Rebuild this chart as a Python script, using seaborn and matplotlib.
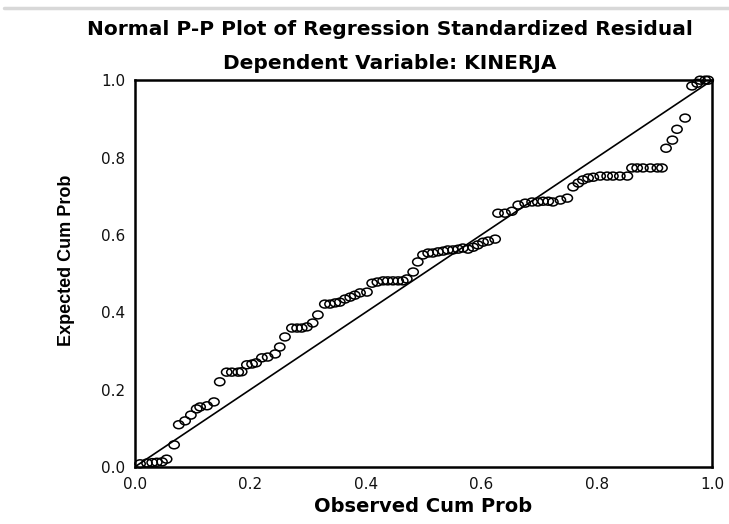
import matplotlib
matplotlib.use("Agg")
import matplotlib.pyplot as plt
import numpy as np
import pandas as pd
import seaborn as sns
from matplotlib.lines import Line2D
from matplotlib.path import Path
from matplotlib.transforms import Affine2D

# observed vs expected cumulative probabilities
observed = [
    0.009, 0.021, 0.030, 0.038, 0.047, 0.055, 0.068, 0.076, 0.087, 0.097,
    0.107, 0.113, 0.125, 0.137, 0.147, 0.159, 0.168, 0.179, 0.185, 0.194,
    0.203, 0.210, 0.220, 0.230, 0.243, 0.251, 0.260, 0.272, 0.281, 0.289,
    0.298, 0.308, 0.317, 0.329, 0.338, 0.347, 0.355, 0.364, 0.373, 0.381,
    0.390, 0.402, 0.411, 0.420, 0.430, 0.438, 0.447, 0.456, 0.464, 0.471,
    0.482, 0.490, 0.499, 0.508, 0.516, 0.525, 0.534, 0.542, 0.551, 0.560,
    0.568, 0.577, 0.586, 0.594, 0.603, 0.612, 0.624, 0.629, 0.641, 0.653,
    0.664, 0.676, 0.688, 0.698, 0.707, 0.716, 0.724, 0.737, 0.749, 0.759,
    0.768, 0.776, 0.785, 0.794, 0.806, 0.818, 0.828, 0.840, 0.853, 0.861,
    0.870, 0.880, 0.893, 0.905, 0.913, 0.920, 0.931, 0.939, 0.953, 0.965,
    0.974, 0.979, 0.988, 0.993,
]
expected = [
    0.008, 0.010, 0.011, 0.012, 0.013, 0.020, 0.057, 0.109, 0.119, 0.134,
    0.150, 0.155, 0.158, 0.168, 0.220, 0.245, 0.245, 0.245, 0.246, 0.264,
    0.266, 0.269, 0.282, 0.284, 0.292, 0.310, 0.336, 0.359, 0.359, 0.359,
    0.362, 0.372, 0.393, 0.421, 0.421, 0.424, 0.426, 0.434, 0.439, 0.444,
    0.450, 0.452, 0.475, 0.478, 0.481, 0.481, 0.481, 0.481, 0.481, 0.486,
    0.504, 0.530, 0.548, 0.553, 0.553, 0.556, 0.558, 0.561, 0.561, 0.563,
    0.566, 0.563, 0.568, 0.574, 0.581, 0.584, 0.589, 0.656, 0.656, 0.661,
    0.677, 0.682, 0.685, 0.685, 0.687, 0.687, 0.685, 0.690, 0.695, 0.724,
    0.734, 0.742, 0.747, 0.749, 0.752, 0.752, 0.752, 0.752, 0.752, 0.773,
    0.773, 0.773, 0.773, 0.773, 0.773, 0.824, 0.845, 0.873, 0.902, 0.985,
    0.992, 1.000, 1.000, 1.000,
]
ticks = [0.0, 0.2, 0.4, 0.6, 0.8, 1.0]

df = pd.DataFrame({"observed": observed, "expected": expected})

sns.set_style("white")
plt.rcParams["font.family"] = ["Liberation Sans", "DejaVu Sans"]
plt.rcParams["text.color"] = "black"
plt.rcParams["axes.labelcolor"] = "black"

# the circles in the original are a bit wider than tall
ellipse = Path.unit_circle().transformed(Affine2D().scale(1.3, 1.0))

fig = plt.figure(figsize=(7.29, 5.24), dpi=100)
ax = fig.add_axes([0.185, 0.109, 0.792, 0.738])

ax.axline((0, 0), slope=1, color="black", lw=1.2, zorder=1)
sns.scatterplot(
    data=df, x="observed", y="expected", ax=ax,
    marker=ellipse, s=55, facecolor="none", edgecolor="black", linewidth=1.1,
    zorder=2, clip_on=False,
)

ax.set_xlim(0, 1)
ax.set_ylim(0, 1)
ax.set_xticks(ticks)
ax.set_yticks(ticks)
ax.set_xticklabels([f"{t:.1f}" for t in ticks], fontsize=11, color="#111111",
                   family="DejaVu Sans")
ax.set_yticklabels([f"{t:.1f}" for t in ticks], fontsize=11, color="#111111",
                   family="DejaVu Sans")
ax.tick_params(axis="both", direction="out", length=5, width=1.2, color="black", pad=2)

for side in ax.spines.values():
    side.set_color("black")
    side.set_linewidth(1.8)

ax.set_xlabel("Observed Cum Prob", fontsize=14, fontweight="bold", labelpad=4,
              family="DejaVu Sans", color="black")
ax.set_ylabel("Expected Cum Prob", fontsize=13, fontweight="bold", color="black")
ax.yaxis.set_label_coords(-0.104, 0.535)

fig.text(0.535, 0.943, "Normal P-P Plot of Regression Standardized Residual",
         ha="center", va="center", fontsize=14.5, fontweight="bold",
         family="DejaVu Sans", color="black")
fig.text(0.535, 0.879, "Dependent Variable: KINERJA",
         ha="center", va="center", fontsize=14.5, fontweight="bold",
         family="DejaVu Sans", color="black")

# light grey separator at the very top
fig.add_artist(Line2D([0.005, 1.0], [0.985, 0.985], color="#d8d8d8", lw=2.5,
                      transform=fig.transFigure))

fig.savefig("out.png", dpi=100)
